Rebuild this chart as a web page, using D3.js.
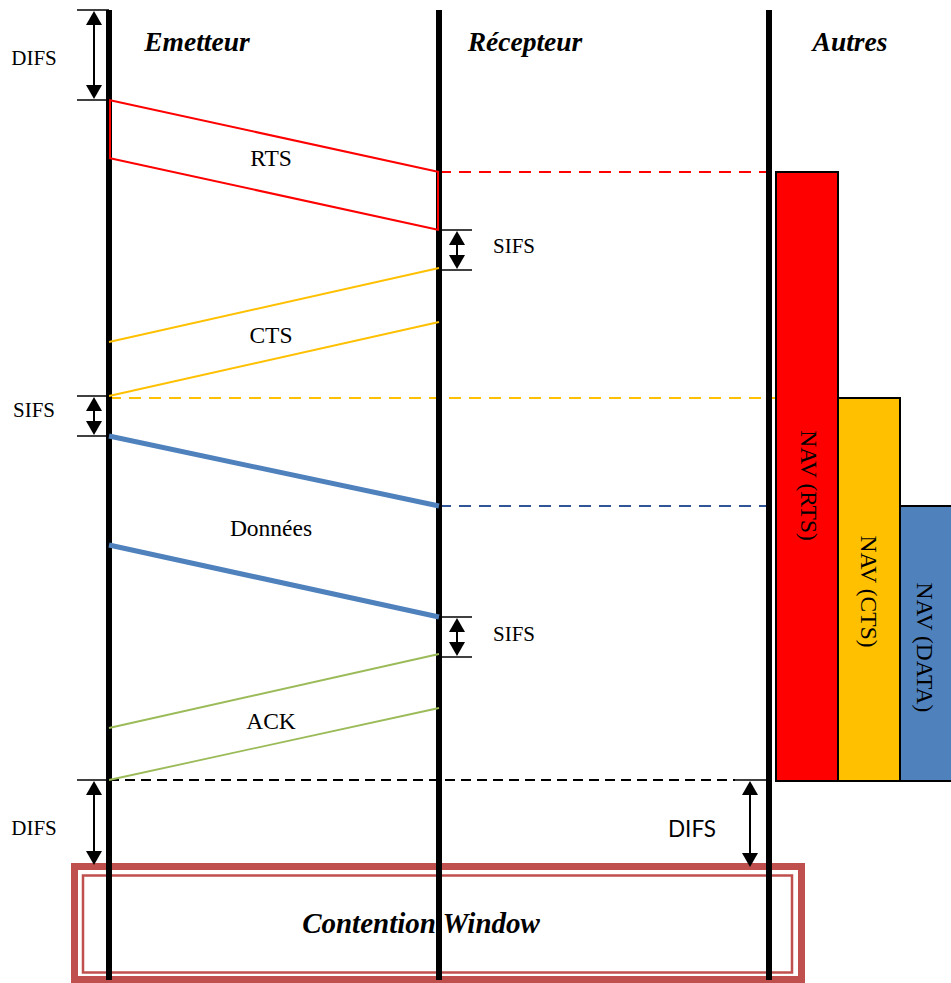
<!DOCTYPE html>
<html><head><meta charset="utf-8">
<script src="https://cdn.jsdelivr.net/npm/d3@7"></script>
<style>html,body{margin:0;padding:0;background:#fff;}svg{display:block}</style>
</head><body>
<script>
// ---- data ----
const stations = ["Emetteur", "Récepteur", "Autres"];
// frames: name, colour, sender-side start/end, receiver-side start/end (time units)
const frameNames   = ["RTS", "CTS", "Données", "ACK"];
const frameColors  = ["#FF0000", "#FFC000", "#4F81BD", "#9BBB59"];
const frameFrom    = ["Emetteur", "Récepteur", "Emetteur", "Récepteur"];
const frameTo      = ["Récepteur", "Emetteur", "Récepteur", "Emetteur"];
const frameTxStart = [100, 268, 436, 654];
const frameTxEnd   = [158, 322, 545, 708];
const frameRxStart = [172, 342, 506, 728];
const frameRxEnd   = [230, 396, 617, 780];
// interframe spaces: label, station, start, end
const ifsLabels   = ["DIFS", "SIFS", "SIFS", "SIFS", "DIFS"];
const ifsStations = ["Emetteur", "Récepteur", "Emetteur", "Récepteur", "Emetteur"];
const ifsStart    = [10, 230, 396, 617, 780];
const ifsEnd      = [100, 270, 436, 657, 866];
// NAV timers on other stations
const navLabels = ["NAV (RTS)", "NAV (CTS)", "NAV (DATA)"];
const navColors = ["#FF0000", "#FFC000", "#4F81BD"];
const navStart  = [172, 398, 506];
const navEnd    = [781, 781, 781];
const dashColors = ["#FF0000", "#FFC000", "#2F5597"];
const endTime = 780;
const cwLabel = "Contention Window";

// ---- drawing ----
const W = 951, H = 983;
const svg = d3.select("body").append("svg").attr("width", W).attr("height", H);
const x = d3.scalePoint().domain(stations).range([109, 769]);
const y = d3.scaleLinear().domain([0, 983]).range([0, 983]);
const serif = "'Liberation Serif','Times New Roman',serif";

// NAV bars
const navX = d3.scaleBand().domain(navLabels).range([776, 962]).padding(0);
const dashStarts = [x("Récepteur"), x("Emetteur"), x("Récepteur")];
navLabels.forEach((n, i) => {
  svg.append("line").attr("x1", dashStarts[i]).attr("x2", navX(n))
    .attr("y1", y(navStart[i])).attr("y2", y(navStart[i]))
    .attr("stroke", dashColors[i]).attr("stroke-width", 2).attr("stroke-dasharray", "12,8");
});
svg.selectAll("rect.nav").data(navLabels).join("rect").attr("class", "nav")
  .attr("x", d => navX(d)).attr("width", navX.bandwidth())
  .attr("y", (d, i) => y(navStart[i])).attr("height", (d, i) => y(navEnd[i]) - y(navStart[i]))
  .attr("fill", (d, i) => navColors[i]).attr("stroke", "#000").attr("stroke-width", 2);
const navTextX = [809, 869, 925];
const navTextDy = [9, 2, 4];
navLabels.forEach((n, i) => {
  const cy = (y(navStart[i]) + y(navEnd[i])) / 2 + navTextDy[i];
  svg.append("text").attr("transform", `translate(${navTextX[i]},${cy}) rotate(90)`)
    .attr("text-anchor", "middle").attr("dominant-baseline", "central")
    .attr("font-family", serif).attr("font-size", 23.5).attr("fill", "#000").text(n);
});

// end dashed line
svg.append("line").attr("x1", x("Emetteur")).attr("x2", 735).attr("y1", y(endTime)).attr("y2", y(endTime))
  .attr("stroke", "#000").attr("stroke-width", 2).attr("stroke-dasharray", "10,6");

// Contention window box
svg.append("rect").attr("x", 74.5).attr("y", 866.5).attr("width", 727).attr("height", 113)
  .attr("fill", "none").attr("stroke", "#C0504D").attr("stroke-width", 7);
svg.append("rect").attr("x", 83).attr("y", 875.5).attr("width", 709).attr("height", 97)
  .attr("fill", "none").attr("stroke", "#C0504D").attr("stroke-width", 2.5);

// station lines
svg.selectAll("line.station").data(stations).join("line").attr("class", "station")
  .attr("x1", d => x(d)).attr("x2", d => x(d)).attr("y1", 10).attr("y2", 980)
  .attr("stroke", "#000").attr("stroke-width", 6);

// titles
const titleX = [197, 525, 850];
stations.forEach((s, i) => {
  svg.append("text").attr("x", titleX[i]).attr("y", 51).attr("text-anchor", "middle")
    .attr("font-family", serif).attr("font-weight", "bold").attr("font-style", "italic")
    .attr("font-size", 27.5).attr("fill", "#000").text(s);
});

// frames
const frameLabelDy = [-7, 3, 2, 3];
frameNames.forEach((f, i) => {
  const xa = x(frameFrom[i]), xb = x(frameTo[i]);
  const sw = f === "Données" ? 5 : (f === "RTS" ? 2 : 1.8);
  const g = svg.append("g").attr("stroke", frameColors[i]).attr("stroke-width", sw).attr("fill", "none");
  g.append("line").attr("x1", xa).attr("y1", y(frameTxStart[i])).attr("x2", xb).attr("y2", y(frameRxStart[i]));
  g.append("line").attr("x1", xa).attr("y1", y(frameTxEnd[i])).attr("x2", xb).attr("y2", y(frameRxEnd[i]));
  if (f === "RTS") {
    g.append("line").attr("x1", xa + 1).attr("x2", xa + 1).attr("y1", y(frameTxStart[i])).attr("y2", y(frameTxEnd[i]));
    g.append("line").attr("x1", xb - 1).attr("x2", xb - 1).attr("y1", y(frameRxStart[i])).attr("y2", y(frameRxEnd[i]));
  }
  const lx = (x("Emetteur") + x("Récepteur")) / 2 - 3;
  const ly = (y(frameTxStart[i]) + y(frameTxEnd[i]) + y(frameRxStart[i]) + y(frameRxEnd[i])) / 4 + frameLabelDy[i];
  svg.append("text").attr("x", lx).attr("y", ly).attr("text-anchor", "middle").attr("dominant-baseline", "central")
    .attr("font-family", serif).attr("font-size", 23.5).attr("fill", "#000").text(f);
});

// interframe spaces
function arrowHead(xc, yt, dir) {
  const h = 14, w = 8;
  svg.append("path").attr("d", `M${xc},${yt} L${xc - w},${yt + dir * h} L${xc + w},${yt + dir * h} Z`).attr("fill", "#000");
}
const ifsLabelDy = [3, -4, -6, -3, 5];
ifsLabels.forEach((lab, i) => {
  const sx = x(ifsStations[i]);
  const left = ifsStations[i] === "Emetteur";
  const ax = left ? sx - 15 : sx + 18;
  const t0 = y(ifsStart[i]), t1 = y(ifsEnd[i]);
  const tx0 = left ? sx - 32 : sx, tx1 = left ? sx : sx + 33;
  svg.append("line").attr("x1", tx0).attr("x2", tx1).attr("y1", t0).attr("y2", t0).attr("stroke", "#000").attr("stroke-width", 1.5);
  if (i !== 4) svg.append("line").attr("x1", tx0).attr("x2", tx1).attr("y1", t1).attr("y2", t1).attr("stroke", "#000").attr("stroke-width", 1.5);
  svg.append("line").attr("x1", ax).attr("x2", ax).attr("y1", t0 + 8).attr("y2", t1 - 8).attr("stroke", "#000").attr("stroke-width", 2);
  arrowHead(ax, t0 + 1, 1);
  arrowHead(ax, t1 - 1, -1);
  svg.append("text").attr("x", left ? 34 : sx + 75).attr("y", (t0 + t1) / 2 + ifsLabelDy[i]).attr("text-anchor", "middle")
    .attr("dominant-baseline", "central").attr("font-family", serif).attr("font-size", 21).attr("fill", "#000").text(lab);
});

// right-hand DIFS
{
  const ax = 750, t0 = y(endTime), t1 = y(ifsEnd[4]) + 2;
  svg.append("line").attr("x1", 735).attr("x2", x("Autres")).attr("y1", t0).attr("y2", t0).attr("stroke", "#000").attr("stroke-width", 1.5);
  svg.append("line").attr("x1", ax).attr("x2", ax).attr("y1", t0 + 8).attr("y2", t1 - 8).attr("stroke", "#000").attr("stroke-width", 2);
  arrowHead(ax, t0 + 1, 1);
  arrowHead(ax, t1 - 1, -1);
  svg.append("text").attr("x", 692).attr("y", 828).attr("text-anchor", "middle").attr("dominant-baseline", "central")
    .attr("font-family", "Lato, 'Open Sans', sans-serif").attr("font-size", 22.5).attr("fill", "#000").text("DIFS");
}

// contention window label
svg.append("text").attr("x", 421).attr("y", 923).attr("text-anchor", "middle").attr("dominant-baseline", "central")
  .attr("font-family", serif).attr("font-weight", "bold").attr("font-style", "italic").attr("font-size", 29)
  .attr("fill", "#000").text(cwLabel);
</script>
</body></html>
